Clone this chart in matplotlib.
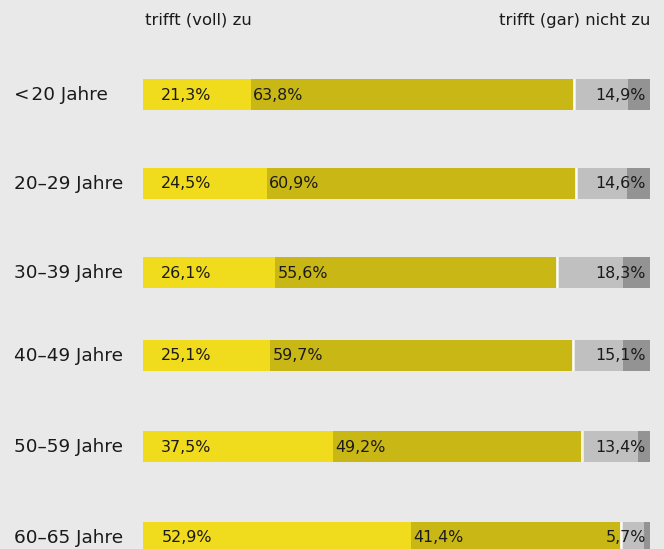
import matplotlib.pyplot as plt

# data
groups = ["<\u200a20 Jahre", "20\u201329 Jahre", "30\u201339 Jahre", "40\u201349 Jahre", "50\u201359 Jahre", "60\u201365 Jahre"]
voll = [21.3, 24.5, 26.1, 25.1, 37.5, 52.9]       # trifft voll zu
eher = [63.8, 60.9, 55.6, 59.7, 49.2, 41.4]       # trifft eher zu
nicht_label = [14.9, 14.6, 18.3, 15.1, 13.4, 5.7]  # trifft (gar) nicht zu, label
eher_nicht = [10.6, 10.1, 13.0, 9.8, 11.0, 4.5]   # estimated split
gar_nicht = [4.3, 4.5, 5.3, 5.3, 2.4, 1.2]

bg = "#e9e9e9"
c_voll = "#f0db1c"
c_eher = "#c9b716"
c_light = "#c0c0c0"
c_dark = "#939393"
txt = "#1a1a1a"

plt.rcParams['font.family'] = ['DejaVu Sans']

fig = plt.figure(figsize=(6.64, 5.49), dpi=100)
fig.patch.set_facecolor(bg)

x0, x1 = 143, 650
ax = fig.add_axes([x0 / 664, 0, (x1 - x0) / 664, 1])
ax.set_facecolor(bg)
ax.set_xlim(0, 100)
ax.set_ylim(549, 0)
ax.axis("off")

rows_y = [94, 183, 272, 355, 446, 537]
h = 31

for i, y in enumerate(rows_y):
    a, b, c, d = voll[i], eher[i], eher_nicht[i], gar_nicht[i]
    ax.barh(y, a, left=0, height=h, color=c_voll)
    ax.barh(y, b, left=a, height=h, color=c_eher)
    gl = a + b + 0.35
    ax.barh(y, 100 - gl - d, left=gl, height=h, color=c_light)
    ax.barh(y, d, left=100 - d, height=h, color=c_dark)
    ax.vlines(a + b - 0.05, y - h / 2, y + h / 2, color="white", lw=1.2)

    ax.text(3.6, y + 1, f"{a:.1f}%".replace(".", ","), va="center", ha="left",
            fontsize=11.4, color=txt)
    ax.text(a + 0.4, y + 1, f"{b:.1f}%".replace(".", ","), va="center", ha="left",
            fontsize=11.4, color=txt)
    ax.text(99.2, y + 1, f"{nicht_label[i]:.1f}%".replace(".", ","), va="center", ha="right",
            fontsize=11.4, color=txt)
    fig.text(14 / 664, 1 - (y + 1) / 549, groups[i], va="center", ha="left",
             fontsize=13.3, color=txt)

fig.text(145 / 664, 1 - 20 / 549, "trifft (voll) zu", va="center", ha="left",
         fontsize=11.8, color=txt)
fig.text(650 / 664, 1 - 20 / 549, "trifft (gar) nicht zu", va="center", ha="right",
         fontsize=11.8, color=txt)

fig.savefig("out.png", dpi=100, facecolor=bg)
